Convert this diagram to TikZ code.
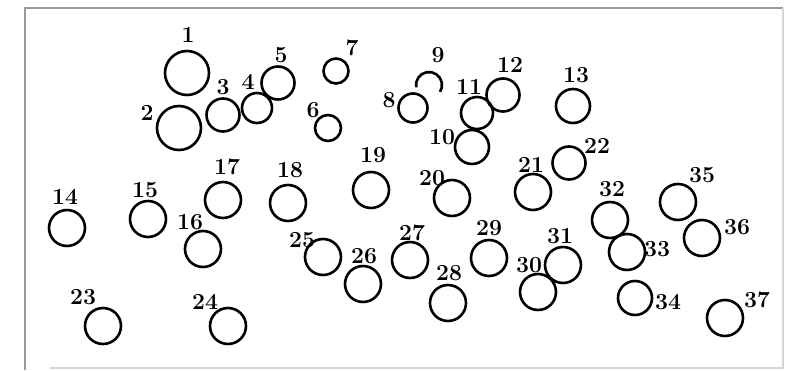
\documentclass[tikz,border=0pt]{standalone}
\usepackage{fontspec}
\usepackage{tikz}
\definecolor{Frame}{HTML}{9A9A9A}
\definecolor{FrameLight}{HTML}{D6D6D6}
\tikzset{ring/.style={circle,draw=black,line width=2.6pt,inner sep=0pt},num/.style={font=\fontsize{23}{25}\selectfont\bfseries,inner sep=0pt},edge/.style={line width=2pt,draw=Frame}}

\begin{document}
\begin{tikzpicture}[x=1pt,y=-1pt]
        \useasboundingbox (0,0) rectangle (785,370);
        \fill[white] (0,0) rectangle (785,370);
        \draw[edge] (25,370)--(25,8)--(783,8);
        \draw[line width=1.5pt,FrameLight] (783,8)--(783,368)--(50,368);
        \foreach \n/\x/\y/\d/\lx/\ly in {1/187/73/44/188/35,2/179/128/44/147/113,3/223/115/33/223/87,4/257/108/30/248/82,5/278/83/33/281/55,6/328/128/26/313/110,7/336/71/25/352/48,8/413/108/29/389/100,10/472/147/34/442/137,11/477/113/32/469/87,12/503/95/33/510/65,13/573/106/34/576/75,14/67/228/36/65/197,15/148/219/36/145/190,16/203/249/36/190/222,17/223/200/36/227/167,18/288/203/36/290/170,19/371/190/36/373/155,20/452/198/36/432/178,21/533/192/36/531/165,22/569/163/33/597/146,23/103/326/36/83/297,24/228/326/36/205/302,25/323/257/36/302/240,26/363/284/36/364/256,27/410/260/36/412/233,28/448/303/36/449/273,29/489/258/36/489/228,30/538/292/36/529/265,31/563/265/36/560/236,32/610/220/36/612/189,33/627/252/36/657/249,34/635/298/34/668/302,35/678/202/36/702/175,36/702/238/36/737/227,37/725/318/36/757/300}
          {\node[ring,minimum size=\d pt] (c\n) at (\x,\y){};
           \node[num] (n\n) at (\lx,\ly){\n};}
        % 9 is only half drawn
        \coordinate (c9) at (429,85);
        \draw[line width=2.6pt] (c9) ++(190:13pt) arc[start angle=190,end angle=-32,radius=13pt];
        \node[num] (n9) at (438,55){9};
      \end{tikzpicture}
\end{document}
